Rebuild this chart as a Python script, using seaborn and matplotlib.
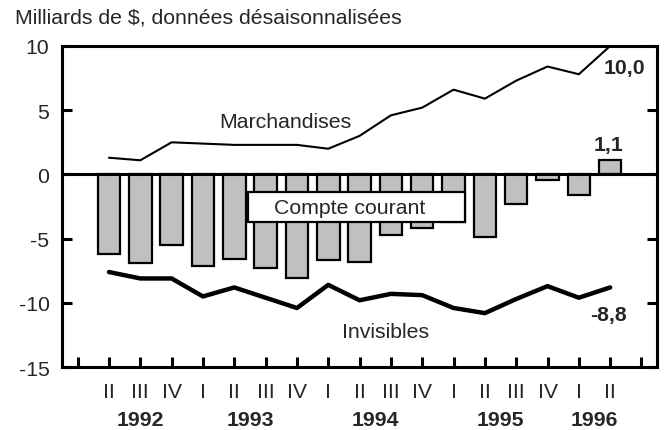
import matplotlib
matplotlib.use("Agg")
import matplotlib.pyplot as plt
import seaborn as sns
import pandas as pd
from matplotlib.patches import Rectangle

# =====================================================
# DATA (milliards de $, quarterly, 1992 II - 1996 II)
# =====================================================
positions = list(range(17))
quarters = ['II', 'III', 'IV', 'I', 'II', 'III', 'IV', 'I', 'II',
            'III', 'IV', 'I', 'II', 'III', 'IV', 'I', 'II']
compte_courant = [-6.2, -6.9, -5.5, -7.1, -6.6, -7.3, -8.1, -6.7, -6.8,
                  -4.7, -4.2, -3.7, -4.9, -2.3, -0.4, -1.6, 1.1]
marchandises = [1.3, 1.1, 2.5, 2.4, 2.3, 2.3, 2.3, 2.0, 3.0,
                4.6, 5.2, 6.6, 5.9, 7.3, 8.4, 7.8, 10.0]
invisibles = [-7.6, -8.1, -8.1, -9.5, -8.8, -9.6, -10.4, -8.6, -9.8,
              -9.3, -9.4, -10.4, -10.8, -9.7, -8.7, -9.6, -8.8]
years = ['1992', '1993', '1994', '1995', '1996']
year_pos = [1, 4.5, 8.5, 12.5, 15.5]

df = pd.DataFrame({'pos': positions, 'cc': compte_courant,
                   'm': marchandises, 'inv': invisibles})

sns.set_theme(style='white')
plt.rcParams['font.family'] = ['Liberation Sans', 'DejaVu Sans']
FS = 15.3

fig = plt.figure(figsize=(6.65, 4.31), dpi=100)
ax = fig.add_axes([0.0932, 0.146, 0.895, 0.745])

# bars - current account
sns.barplot(data=df, x='pos', y='cc', native_scale=True, width=0.72,
            color='#c0c0c0', saturation=1, edgecolor='black',
            linewidth=1.6, ax=ax, zorder=2)
ax.axhline(0, color='black', lw=2.2, zorder=3)

# lines
sns.lineplot(data=df, x='pos', y='m', color='black', lw=1.5, ax=ax, zorder=4)
sns.lineplot(data=df, x='pos', y='inv', color='black', lw=3.2, ax=ax, zorder=4)

# label box for current account
ax.add_patch(Rectangle((4.43, -3.74), 6.92, 2.34, facecolor='white',
                       edgecolor='black', lw=1.6, zorder=5))
ax.text(7.68, -2.57, 'Compte courant', ha='center', va='center',
        fontsize=FS, zorder=6)
ax.text(5.64, 4.15, 'Marchandises', ha='center', va='center', fontsize=FS)
ax.text(8.83, -12.2, 'Invisibles', ha='center', va='center', fontsize=FS)
ax.text(16.45, 8.3, '10,0', ha='center', va='center', fontsize=FS,
        fontweight='bold')
ax.text(15.95, 2.35, '1,1', ha='center', va='center', fontsize=FS,
        fontweight='bold')
ax.text(15.95, -10.9, '-8,8', ha='center', va='center', fontsize=FS,
        fontweight='bold')

# axes
ax.set_xlim(-1.5, 17.5)
ax.set_ylim(-15, 10)
ax.set_yticks([-15, -10, -5, 0, 5, 10])
ax.set_yticklabels(['-15', '-10', '-5', '0', '5', '10'], fontsize=FS)
ax.set_xticks(list(range(-1, 18)))
ax.set_xticklabels([''] + quarters + [''], fontsize=FS)
ax.tick_params(axis='both', direction='in', length=7, width=2.2,
               color='black')
ax.tick_params(axis='y', right=True, left=True, pad=9)
ax.tick_params(axis='x', bottom=True, pad=11)
for s in ax.spines.values():
    s.set_visible(True)
    s.set_linewidth(2.2)
    s.set_color('black')
ax.set_xlabel('')
ax.set_ylabel('')

for yr, p in zip(years, year_pos):
    ax.text(p, -0.162, yr, transform=ax.get_xaxis_transform(),
            ha='center', va='center', fontsize=FS, fontweight='bold')

fig.text(0.023, 0.958, 'Milliards de $, données désaisonnalisées',
         ha='left', va='center', fontsize=FS)

fig.savefig('out.png', dpi=100)
